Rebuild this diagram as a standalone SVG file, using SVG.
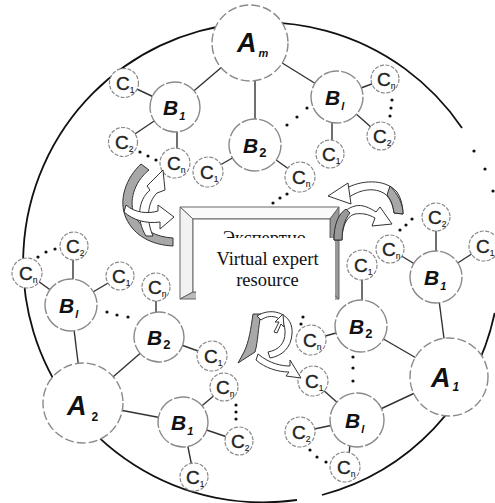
<svg xmlns="http://www.w3.org/2000/svg" width="495" height="503" viewBox="0 0 495 503">
<style>
.big{fill:none;stroke:#111;stroke-width:1.8}
.na{fill:#fff;stroke:#8a8a8a;stroke-width:1.4;stroke-dasharray:9 3}
.nb{fill:#fff;stroke:#8a8a8a;stroke-width:1.4;stroke-dasharray:16 2}
.nc{fill:#fff;stroke:#8a8a8a;stroke-width:1.2;stroke-dasharray:4 1.5}
.ln{stroke:#333;stroke-width:1.4;fill:none}
.dot{fill:#111}
.la{font-family:"Liberation Sans",Arial,sans-serif;font-weight:bold;font-style:italic;fill:#111}
.lb{font-family:"Liberation Sans",Arial,sans-serif;font-weight:bold;font-style:italic;fill:#111;font-size:21px}
.lc{font-family:"Liberation Sans",Arial,sans-serif;fill:#222;stroke:#222;stroke-width:0.35;font-size:19px}
.sb{font-size:11px}
.sc{font-size:8.5px;stroke-width:0.15}
.ar{fill:#fff;stroke:#333;stroke-width:1}
.ag{fill:#a8a8a8;stroke:#333;stroke-width:1}
.bx{font-family:"Liberation Serif","Times New Roman",serif;font-size:18.5px;text-anchor:middle;fill:#111}
</style>

<g id="outline">
<path class="big" d="M494.7,313 A240,240 0 0 1 322,495 M297,500 A240,240 0 1 1 462,128"/>
<circle class="dot" cx="474" cy="151" r="1.6"/>
<circle class="dot" cx="485" cy="169" r="1.6"/>
<circle class="dot" cx="493" cy="191" r="1.6"/>
</g>

<g id="connectors">
<line class="ln" x1="250" y1="43" x2="175" y2="107"/>
<line class="ln" x1="255" y1="43" x2="255" y2="145"/>
<line class="ln" x1="250" y1="43" x2="337" y2="97"/>
<line class="ln" x1="175" y1="107" x2="124" y2="83"/>
<line class="ln" x1="175" y1="107" x2="123" y2="142"/>
<line class="ln" x1="177" y1="107" x2="177" y2="163"/>
<line class="ln" x1="255" y1="145" x2="208" y2="172"/>
<line class="ln" x1="255" y1="145" x2="300" y2="177"/>
<line class="ln" x1="337" y1="97" x2="385" y2="79"/>
<line class="ln" x1="337" y1="97" x2="381" y2="136"/>
<line class="ln" x1="332" y1="97" x2="332" y2="154"/>
<line class="ln" x1="449" y1="377" x2="436" y2="277"/>
<line class="ln" x1="449" y1="377" x2="361" y2="326"/>
<line class="ln" x1="449" y1="377" x2="357" y2="420"/>
<line class="ln" x1="436" y1="277" x2="436" y2="217"/>
<line class="ln" x1="436" y1="277" x2="484" y2="246"/>
<line class="ln" x1="436" y1="277" x2="390" y2="249"/>
<line class="ln" x1="362" y1="326" x2="362" y2="265"/>
<line class="ln" x1="361" y1="326" x2="311" y2="340"/>
<line class="ln" x1="357" y1="420" x2="313" y2="381"/>
<line class="ln" x1="357" y1="420" x2="300" y2="432"/>
<line class="ln" x1="352" y1="420" x2="348" y2="467"/>
<line class="ln" x1="83" y1="403" x2="71" y2="305"/>
<line class="ln" x1="83" y1="403" x2="159" y2="337"/>
<line class="ln" x1="83" y1="403" x2="183" y2="422"/>
<line class="ln" x1="73" y1="305" x2="73" y2="246"/>
<line class="ln" x1="71" y1="305" x2="27" y2="273"/>
<line class="ln" x1="71" y1="305" x2="120" y2="276"/>
<line class="ln" x1="156" y1="337" x2="156" y2="287"/>
<line class="ln" x1="159" y1="337" x2="212" y2="356"/>
<line class="ln" x1="183" y1="422" x2="224" y2="387"/>
<line class="ln" x1="183" y1="422" x2="239" y2="441"/>
<line class="ln" x1="183" y1="422" x2="194" y2="477"/>
<g class="dot">
<circle cx="140" cy="152" r="1.6"/><circle cx="148" cy="156" r="1.6"/><circle cx="156" cy="160" r="1.6"/>
<circle cx="287" cy="125" r="1.6"/><circle cx="297" cy="117" r="1.6"/><circle cx="307" cy="108" r="1.6"/>
<circle cx="273" cy="203" r="1.6"/><circle cx="280" cy="198" r="1.6"/><circle cx="287" cy="194" r="1.6"/>
<circle cx="392" cy="100" r="1.6"/><circle cx="391" cy="108" r="1.6"/><circle cx="390" cy="116" r="1.6"/>
<circle cx="400" cy="230" r="1.6"/><circle cx="406" cy="225" r="1.6"/><circle cx="412" cy="219" r="1.6"/>
<circle cx="303" cy="317" r="1.6"/><circle cx="301" cy="324" r="1.6"/>
<circle cx="353" cy="357" r="1.6"/><circle cx="353" cy="368" r="1.6"/><circle cx="353" cy="381" r="1.6"/>
<circle cx="310" cy="450" r="1.6"/><circle cx="317" cy="457" r="1.6"/><circle cx="326" cy="462" r="1.6"/>
<circle cx="38" cy="257" r="1.6"/><circle cx="46" cy="252" r="1.6"/><circle cx="55" cy="249" r="1.6"/>
<circle cx="107" cy="312" r="1.6"/><circle cx="117" cy="315" r="1.6"/><circle cx="128" cy="317" r="1.6"/>
<circle cx="236" cy="405" r="1.6"/><circle cx="236" cy="412" r="1.6"/><circle cx="236" cy="419" r="1.6"/>
</g>
</g>

<g id="Am"><circle class="na" cx="250" cy="43" r="38"/><text class="la" x="237" y="52" font-size="27">A<tspan class="sb" dx="2" dy="5">m</tspan></text></g>
<g id="A2"><circle class="na" cx="83" cy="403" r="40"/><text class="la" x="67" y="415" font-size="27">A<tspan font-size="12" dx="5" dy="6" font-style="normal">2</tspan></text></g>
<g id="A1"><circle class="na" cx="449" cy="377" r="39"/><text class="la" x="431" y="387" font-size="27">A<tspan font-size="12" dx="2" dy="4">1</tspan></text></g>

<g id="B1-top"><circle class="nb" cx="175" cy="107" r="25"/><text class="lb" x="163" y="115">B<tspan class="sb" dx="1" dy="5">1</tspan></text></g>
<g id="B2-top"><circle class="nb" cx="255" cy="145" r="26"/><text class="lb" x="243" y="153">B<tspan font-size="13" dx="1" dy="4" font-style="normal">2</tspan></text></g>
<g id="Bl-top"><circle class="nb" cx="337" cy="97" r="26"/><text class="lb" x="325" y="105">B<tspan class="sb" dx="1" dy="5">l</tspan></text></g>
<g id="B1-right"><circle class="nb" cx="436" cy="277" r="26"/><text class="lb" x="424" y="285">B<tspan class="sb" dx="1" dy="5">1</tspan></text></g>
<g id="B2-right"><circle class="nb" cx="361" cy="326" r="26"/><text class="lb" x="349" y="334">B<tspan font-size="13" dx="1" dy="4" font-style="normal">2</tspan></text></g>
<g id="Bl-right"><circle class="nb" cx="357" cy="420" r="27"/><text class="lb" x="345" y="428">B<tspan class="sb" dx="1" dy="5">l</tspan></text></g>
<g id="Bl-left"><circle class="nb" cx="71" cy="305" r="26"/><text class="lb" x="59" y="313">B<tspan class="sb" dx="1" dy="5">l</tspan></text></g>
<g id="B2-left"><circle class="nb" cx="159" cy="337" r="25"/><text class="lb" x="147" y="345">B<tspan font-size="13" dx="1" dy="4" font-style="normal">2</tspan></text></g>
<g id="B1-left"><circle class="nb" cx="183" cy="422" r="25"/><text class="lb" x="171" y="430">B<tspan class="sb" dx="1" dy="5">1</tspan></text></g>

<g id="C1-a"><circle class="nc" cx="124" cy="83" r="14.5"/><text class="lc" x="116" y="90">C<tspan class="sc" dy="3">1</tspan></text></g>
<g id="C2-a"><circle class="nc" cx="123" cy="142" r="14.5"/><text class="lc" x="115" y="149">C<tspan class="sc" dy="3">2</tspan></text></g>
<g id="Cn-a"><circle class="nc" cx="175" cy="163" r="15"/><text class="lc" x="167" y="170">C<tspan class="sc" dy="3">n</tspan></text></g>
<g id="C1-b"><circle class="nc" cx="208" cy="172" r="15"/><text class="lc" x="200" y="179">C<tspan class="sc" dy="3">1</tspan></text></g>
<g id="Cn-b"><circle class="nc" cx="300" cy="177" r="15"/><text class="lc" x="292" y="184">C<tspan class="sc" dy="3">n</tspan></text></g>
<g id="Cn-c"><circle class="nc" cx="385" cy="79" r="14"/><text class="lc" x="377" y="86">C<tspan class="sc" dy="3">n</tspan></text></g>
<g id="C2-c"><circle class="nc" cx="381" cy="136" r="14"/><text class="lc" x="373" y="143">C<tspan class="sc" dy="3">2</tspan></text></g>
<g id="C1-c"><circle class="nc" cx="330" cy="154" r="14"/><text class="lc" x="322" y="161">C<tspan class="sc" dy="3">1</tspan></text></g>
<g id="C2-d"><circle class="nc" cx="436" cy="217" r="14"/><text class="lc" x="428" y="224">C<tspan class="sc" dy="3">2</tspan></text></g>
<g id="C1-d"><circle class="nc" cx="484" cy="246" r="15"/><text class="lc" x="476" y="253">C<tspan class="sc" dy="3">1</tspan></text></g>
<g id="Cn-d"><circle class="nc" cx="390" cy="249" r="14"/><text class="lc" x="382" y="256">C<tspan class="sc" dy="3">n</tspan></text></g>
<g id="C1-e"><circle class="nc" cx="362" cy="265" r="15"/><text class="lc" x="354" y="272">C<tspan class="sc" dy="3">1</tspan></text></g>
<g id="Cn-e"><circle class="nc" cx="311" cy="340" r="15"/><text class="lc" x="303" y="347">C<tspan class="sc" dy="3">n</tspan></text></g>
<g id="C1-f"><circle class="nc" cx="313" cy="381" r="15"/><text class="lc" x="305" y="388">C<tspan class="sc" dy="3">1</tspan></text></g>
<g id="C2-f"><circle class="nc" cx="300" cy="432" r="15"/><text class="lc" x="292" y="439">C<tspan class="sc" dy="3">2</tspan></text></g>
<g id="Cn-f"><circle class="nc" cx="345" cy="467" r="15"/><text class="lc" x="337" y="474">C<tspan class="sc" dy="3">n</tspan></text></g>
<g id="C2-g"><circle class="nc" cx="74" cy="246" r="14"/><text class="lc" x="66" y="253">C<tspan class="sc" dy="3">2</tspan></text></g>
<g id="Cn-g"><circle class="nc" cx="27" cy="273" r="15"/><text class="lc" x="19" y="280">C<tspan class="sc" dy="3">n</tspan></text></g>
<g id="C1-g"><circle class="nc" cx="120" cy="276" r="14"/><text class="lc" x="112" y="283">C<tspan class="sc" dy="3">1</tspan></text></g>
<g id="Cn-h"><circle class="nc" cx="156" cy="287" r="14"/><text class="lc" x="148" y="294">C<tspan class="sc" dy="3">n</tspan></text></g>
<g id="C1-h"><circle class="nc" cx="212" cy="356" r="15"/><text class="lc" x="204" y="363">C<tspan class="sc" dy="3">1</tspan></text></g>
<g id="Cn-i"><circle class="nc" cx="224" cy="387" r="14"/><text class="lc" x="216" y="394">C<tspan class="sc" dy="3">n</tspan></text></g>
<g id="C2-i"><circle class="nc" cx="239" cy="441" r="14"/><text class="lc" x="231" y="448">C<tspan class="sc" dy="3">2</tspan></text></g>
<g id="C1-i"><circle class="nc" cx="194" cy="477" r="14"/><text class="lc" x="186" y="484">C<tspan class="sc" dy="3">1</tspan></text></g>

<g id="swirl-left">
<path class="ag" d="M141,164 C126,178 118,200 126,218 C134,236 152,245 173,246 L173,238 C156,237 142,230 135,216 C128,202 134,182 149,170 Z"/>
<path class="ar" d="M146,236 C136,220 138,200 150,190 L147,186 L163,170 L165,190 L157,193 C147,203 146,220 153,236 Z"/>
<path class="ar" d="M126,205 C135,213 148,214 158,211 L158,205 L174,217 L160,229 L160,222 C146,224 133,220 124,212 Z"/>
</g>

<g id="swirl-right">
<path class="ar" d="M345,189 C360,180 385,178 397,192 C401,198 403,206 403,214 L394,213 C393,205 390,198 385,194 C375,187 360,189 348,198 Z"/>
<path fill="#a8a8a8" stroke="#333" stroke-width="1" d="M390,186 C398,194 403,204 403,214 L394,213 C393,205 391,200 387,195 Z"/>
<path class="ar" d="M328,196 L348,183 L351,204 Z"/>
</g>

<g id="box">
<polygon fill="#fafafa" stroke="#666" points="180,207 339,207 330,219 193,219"/>
<polygon fill="#f2f2f2" stroke="#666" points="180,207 193,219 193,292 180,299"/>
<polygon fill="#999" stroke="#666" points="339,207 339,299 330,292 330,219"/>
<polygon fill="#bbb" stroke="#666" points="180,299 193,292 330,292 339,299"/>
<rect x="193" y="219" width="137" height="73" fill="#fff" stroke="#666"/>
<text class="bx" x="267.5" y="244">Экспертно-</text>
<rect x="196" y="238" width="139" height="63" fill="#fff"/>
<text class="bx" x="267.5" y="265">Virtual expert</text>
<text class="bx" x="267.5" y="286">resource</text>
</g>

<g id="swirl-right-b">
<path class="ar" d="M334,240 C334,225 340,210 355,206 C362,204 370,208 376,212 L380,207 L392,224 L372,226 L375,218 C368,214 362,213 355,214 C346,216 342,228 342,240 Z"/>
<path fill="#999" stroke="#333" stroke-width="1" d="M334,240 C334,225 338,214 346,209 L350,213 C344,220 342,230 342,240 Z"/>
</g>

<g id="swirl-bottom">
<path class="ag" d="M253,314 L261,314 C258,328 258,342 255,352 L238,363 L244,352 C249,342 251,328 253,314 Z"/>
<path class="ar" d="M257,316 C272,306 294,314 292,334 C291,348 282,356 270,358 L268,352 C279,350 285,343 285,333 C286,318 272,312 261,320 Z"/>
<path class="ar" d="M258,354 C270,364 282,366 290,366 L290,360 L301,378 L286,376 L289,372 C278,372 265,368 256,360 Z"/>
<path class="ar" d="M274,332 L279,322 L275,322 L283,314 L284,327 L281,324 L277,333 Z"/>
</g>
</svg>
